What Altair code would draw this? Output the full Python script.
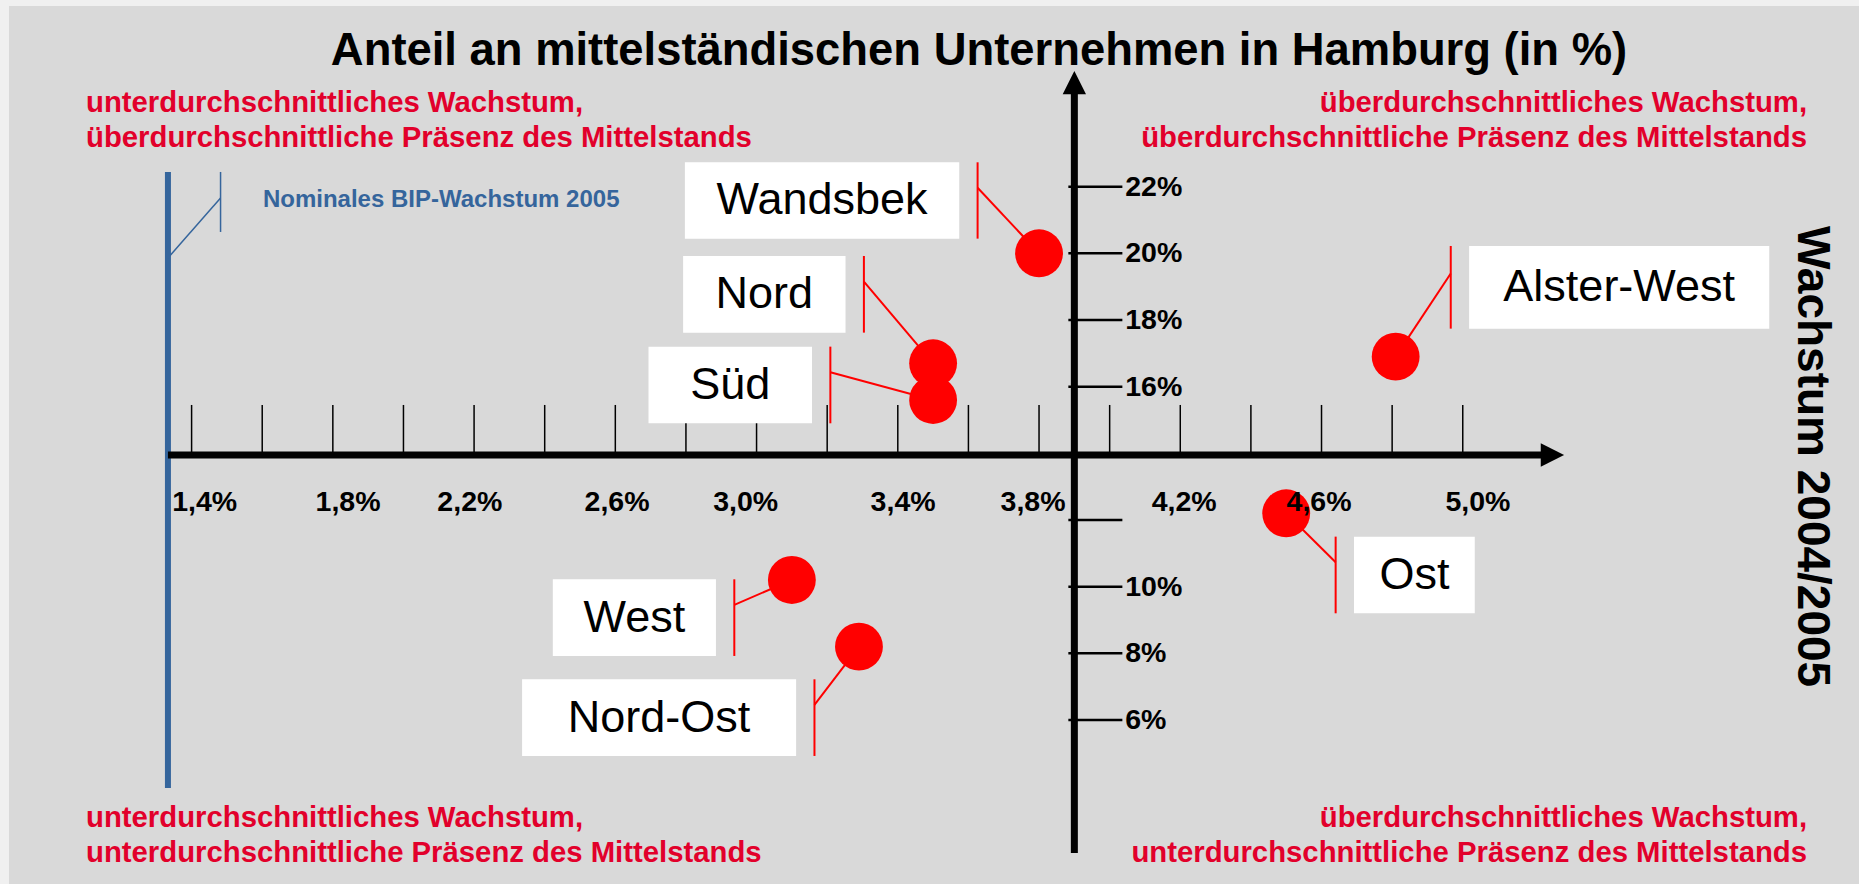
import altair as alt
import pandas as pd

# ---------------- values ----------------
districts = ["Wandsbek", "Nord", "Süd", "Alster-West", "Ost", "West", "Nord-Ost"]
growth = [3.80, 3.50, 3.50, 4.81, 4.50, 3.10, 3.29]   # Wachstum 2004/2005 (%)
share = [20.0, 16.7, 15.6, 16.9, 12.2, 10.2, 8.2]     # Anteil Mittelstand (%)

x_tick_values = [1.4, 1.6, 1.8, 2.0, 2.2, 2.4, 2.6, 2.8, 3.0, 3.2, 3.4, 3.6,
                 3.8, 4.0, 4.2, 4.4, 4.6, 4.8, 5.0]
x_tick_labels = ["1,4%", "1,8%", "2,2%", "2,6%", "3,0%", "3,4%", "3,8%", "4,2%", "4,6%", "5,0%"]
x_label_at = [1.437, 1.843, 2.188, 2.605, 2.969, 3.415, 3.783, 4.211, 4.593, 5.043]

y_tick_values = [22, 20, 18, 16, 12, 10, 8, 6]
y_tick_labels = ["22%", "20%", "18%", "16%", "10%", "8%", "6%"]
y_label_at = [22, 20, 18, 16, 10, 8, 6]

gdp_growth = 1.333     # Nominales BIP-Wachstum 2005 (blue line)
avg_growth = 3.9       # vertical axis position
avg_share = 13.95      # horizontal axis position

title_text = "Anteil an mittelständischen Unternehmen in Hamburg (in %)"
side_title = "Wachstum 2004/2005"
gdp_label = "Nominales BIP-Wachstum 2005"
quadrants = [
    ("unterdurchschnittliches Wachstum,", "überdurchschnittliche Präsenz des Mittelstands", "tl"),
    ("überdurchschnittliches Wachstum,", "überdurchschnittliche Präsenz des Mittelstands", "tr"),
    ("unterdurchschnittliches Wachstum,", "unterdurchschnittliche Präsenz des Mittelstands", "bl"),
    ("überdurchschnittliches Wachstum,", "unterdurchschnittliche Präsenz des Mittelstands", "br"),
]

# ---------------- layout (in chart units) ----------------
# label boxes: x-left, x-right, y-top, y-bottom
boxes = {
    "Wandsbek": (2.797, 3.574, 22.73, 20.44),
    "Nord": (2.792, 3.252, 19.92, 17.62),
    "Süd": (2.694, 3.157, 17.20, 14.90),
    "Alster-West": (5.018, 5.868, 20.22, 17.74),
    "Ost": (4.692, 5.034, 11.50, 9.20),
    "West": (2.423, 2.885, 10.22, 7.92),
    "Nord-Ost": (2.336, 3.112, 7.22, 4.92),
}
GAP = 0.052

W, H = 1850, 878
XS = alt.Scale(domain=[0.88287, 6.12218], nice=False, zero=False)
YS = alt.Scale(domain=[1.079, 27.419], nice=False, zero=False)
FONT = "Liberation Sans"
RED_TXT = "#e2002b"
BLUE = "#35659c"


def X(f):
    return alt.X(f, type="quantitative", scale=XS, axis=None)


def Y(f):
    return alt.Y(f, type="quantitative", scale=YS, axis=None)


def segs(df, color, width):
    return alt.Chart(df).mark_rule(color=color, strokeWidth=width).encode(
        x=X("x"), y=Y("y"), x2="x2", y2="y2")


# blue GDP line and its callout
blue_line = segs(pd.DataFrame({"x": [gdp_growth], "y": [3.96], "x2": [gdp_growth], "y2": [22.44]}), BLUE, 6)
blue_call = segs(pd.DataFrame({
    "x": [gdp_growth, 1.482], "y": [19.86, 22.44],
    "x2": [1.482, 1.482], "y2": [21.66, 20.64]}), BLUE, 1.5)
blue_text = alt.Chart(pd.DataFrame({"x": [1.602], "y": [21.39], "t": [gdp_label]})).mark_text(
    font=FONT, fontSize=24, fontWeight="bold", color=BLUE, align="left", baseline="alphabetic"
).encode(x=X("x"), y=Y("y"), text="t:N")

# axes
axes = segs(pd.DataFrame({
    "x": [gdp_growth, avg_growth], "y": [avg_share, 2.01],
    "x2": [5.225, avg_growth], "y2": [avg_share, 24.8]}), "black", 7)
arrow_r = alt.Chart(pd.DataFrame({"x": [5.254], "y": [avg_share]})).mark_point(
    shape="M-1,-1L1,0L-1,1Z", size=545, filled=True, color="black", opacity=1
).encode(x=X("x"), y=Y("y"))
arrow_u = alt.Chart(pd.DataFrame({"x": [avg_growth], "y": [25.12]})).mark_point(
    shape="M-1,1L0,-1L1,1Z", size=545, filled=True, color="black", opacity=1
).encode(x=X("x"), y=Y("y"))

xticks = segs(pd.DataFrame({"x": x_tick_values, "y": [avg_share] * len(x_tick_values),
                            "x2": x_tick_values, "y2": [15.45] * len(x_tick_values)}), "black", 1.5)
yticks = segs(pd.DataFrame({"x": [3.883] * len(y_tick_values), "y": y_tick_values,
                            "x2": [4.036] * len(y_tick_values), "y2": y_tick_values}), "black", 2.5)

xlabels = alt.Chart(pd.DataFrame({"x": x_label_at, "y": [12.55] * len(x_label_at), "t": x_tick_labels})).mark_text(
    font=FONT, fontSize=28.5, fontWeight="bold", color="black", align="center", baseline="middle"
).encode(x=X("x"), y=Y("y"), text="t:N")
ylabels = alt.Chart(pd.DataFrame({"x": [4.044] * len(y_label_at), "y": y_label_at, "t": y_tick_labels})).mark_text(
    font=FONT, fontSize=28.5, fontWeight="bold", color="black", align="left", baseline="middle"
).encode(x=X("x"), y=Y("y"), text="t:N")

# label boxes + callouts
box_rows, call_rows, lab_rows = [], [], []
for name, gx, sy in zip(districts, growth, share):
    x0, x1, top, bot = boxes[name]
    box_rows.append({"x": x0, "x2": x1, "y": top, "y2": bot})
    lab_rows.append({"x": (x0 + x1) / 2, "y": (top + bot) / 2, "t": name})
    bx = x1 + GAP if x1 < gx else x0 - GAP
    elbow = top - (top - bot) / 3
    call_rows.append({"x": bx, "y": top, "x2": bx, "y2": bot})
    call_rows.append({"x": bx, "y": elbow, "x2": gx, "y2": sy})

box_layer = alt.Chart(pd.DataFrame(box_rows)).mark_rect(color="white").encode(
    x=X("x"), x2="x2", y=Y("y"), y2="y2")
call_layer = segs(pd.DataFrame(call_rows), "#ff0000", 2)
points = alt.Chart(pd.DataFrame({"g": growth, "s": share, "d": districts})).mark_circle(
    size=2290, color="#ff0000", opacity=1
).encode(x=X("g"), y=Y("s"))
labels = alt.Chart(pd.DataFrame(lab_rows)).mark_text(
    font=FONT, fontSize=45, color="black", align="center", baseline="middle"
).encode(x=X("x"), y=Y("y"), text="t:N")

# quadrant texts
qrows = []
for l1, l2, pos in quadrants:
    xx = 1.101 if pos[1] == "l" else 5.975
    al = "left" if pos[1] == "l" else "right"
    ys = (24.25, 23.2) if pos[0] == "t" else (2.78, 1.75)
    qrows.append({"x": xx, "y": ys[0], "t": l1, "a": al})
    qrows.append({"x": xx, "y": ys[1], "t": l2, "a": al})
qdf = pd.DataFrame(qrows)
qleft = alt.Chart(qdf[qdf.a == "left"]).mark_text(
    font=FONT, fontSize=29.3, fontWeight="bold", color=RED_TXT, align="left", baseline="alphabetic"
).encode(x=X("x"), y=Y("y"), text="t:N")
qright = alt.Chart(qdf[qdf.a == "right"]).mark_text(
    font=FONT, fontSize=29.3, fontWeight="bold", color=RED_TXT, align="right", baseline="alphabetic"
).encode(x=X("x"), y=Y("y"), text="t:N")

title = alt.Chart(pd.DataFrame({"x": [3.63], "y": [25.65], "t": [title_text]})).mark_text(
    font=FONT, fontSize=45.4, fontWeight="bold", color="black", align="center", baseline="alphabetic"
).encode(x=X("x"), y=Y("y"), text="t:N")
side = alt.Chart(pd.DataFrame({"x": [5.949], "y": [13.9], "t": [side_title]})).mark_text(
    font=FONT, fontSize=46, fontWeight="bold", color="black", align="center", baseline="alphabetic", angle=90
).encode(x=X("x"), y=Y("y"), text="t:N")

chart = alt.layer(
    blue_line, blue_call, blue_text, axes, arrow_r, arrow_u, xticks, yticks,
    box_layer, call_layer, points, xlabels, ylabels, labels, qleft, qright, title, side
).properties(
    width=W, height=H,
    padding={"left": 9, "top": 6, "right": 0, "bottom": 0},
    autosize=alt.AutoSizeParams(type="none"),
    background="#f0f0f0",
).configure_view(fill="#d9d9d9", stroke=None)

chart.save("out.html", embed_options={"renderer": "svg", "actions": False})
